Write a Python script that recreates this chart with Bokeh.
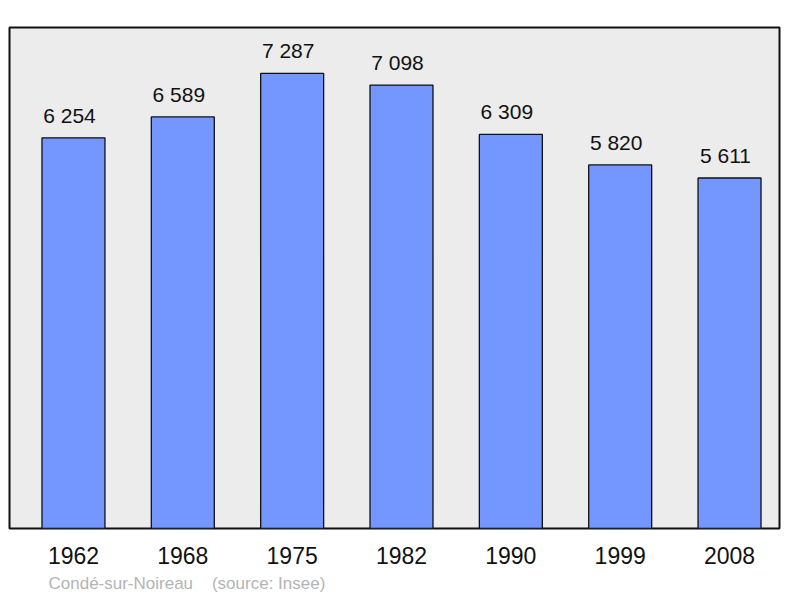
from bokeh.plotting import figure
from bokeh.models import ColumnDataSource, Range1d, FixedTicker, Title
from bokeh.core.properties import value
from bokeh.embed import file_html
from bokeh.resources import INLINE

years = ["1962", "1968", "1975", "1982", "1990", "1999", "2008"]
population = [6254, 6589, 7287, 7098, 6309, 5820, 5611]
labels = ["6 254", "6 589", "7 287", "7 098", "6 309", "5 820", "5 611"]
footer = "Condé-sur-Noireau\u00a0\u00a0\u00a0\u00a0(source: Insee)"

xs = list(range(len(years)))
src = ColumnDataSource(dict(x=xs, pop=population, lab=labels))

p = figure(width=784, height=590, output_backend="svg", toolbar_location=None,
           x_range=Range1d(-0.585, 6.457), y_range=Range1d(0, 8020),
           min_border_left=9, min_border_right=5, min_border_top=27, min_border_bottom=0,
           frame_width=770, frame_height=501)
p.background_fill_color = "#ECECEC"
p.border_fill_color = "white"
p.outline_line_color = "#111111"
p.outline_line_width = 2
p.grid.visible = False
p.yaxis.visible = False

p.vbar(x="x", top="pop", width=0.576, bottom=0, source=src,
       fill_color="#7396FF", line_color="#111111", line_width=1.3)
p.text(x="x", y="pop", text="lab", source=src, text_align="center",
       text_baseline="bottom", y_offset=-11, x_offset=-4,
       text_font=value("Liberation Sans"),
       text_font_size="21px", text_color="#111111")

ax = p.xaxis[0]
ax.ticker = FixedTicker(ticks=xs)
ax.major_label_overrides = {i: y for i, y in enumerate(years)}
ax.axis_line_color = None
ax.major_tick_line_color = None
ax.minor_tick_line_color = None
ax.major_tick_out = 0
ax.major_label_standoff = 18
ax.major_label_text_font = "Liberation Sans"
ax.major_label_text_font_size = "23px"
ax.major_label_text_color = "#111111"

t = Title(text=footer, align="left", offset=39, text_font="Liberation Sans",
          text_font_size="17px", text_color="#B4B4B4", text_font_style="normal",
          standoff=11)
p.add_layout(t, "below")

open("out.html", "w").write(file_html(p, INLINE))
